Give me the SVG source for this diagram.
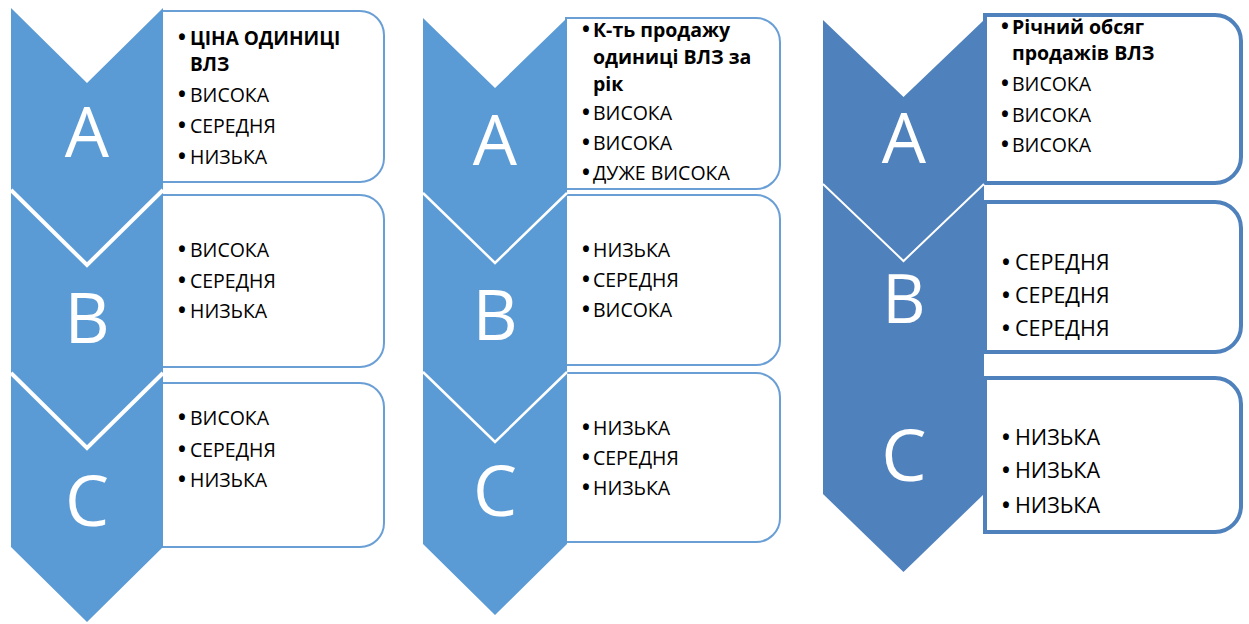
<svg xmlns="http://www.w3.org/2000/svg" width="1249" height="624" viewBox="0 0 1249 624">
  <style>
    .chev1 { fill: #5b9bd5; }
    .chev3 { fill: #4f81bd; }
    .sep1 { fill: none; stroke: #ffffff; stroke-width: 4; }
    .sep2 { fill: none; stroke: #ffffff; stroke-width: 2.5; }
    .sep3 { fill: none; stroke: #ffffff; stroke-width: 2; }
    .box1 { fill: #ffffff; stroke: #6a9fd6; stroke-width: 2; }
    .box3 { fill: #ffffff; stroke: #4f81bd; stroke-width: 4; }
    .letter { font-family: "Open Sans", "Noto Sans", "DejaVu Sans", sans-serif; fill: #ffffff; text-anchor: middle; font-size: 70px; }
    .t { font-family: "Open Sans", "Noto Sans", "DejaVu Sans", sans-serif; fill: #000000; font-size: 19.5px; }
    .tb { font-weight: bold; }
    .big { font-size: 21.5px; }
    .bul { font-size: 21px; font-weight: bold; }
  </style>
  <rect width="1249" height="624" fill="#ffffff"/>

  <!-- column 1: unit price -->
  <g id="c1-A">
    <path class="box1" d="M162,11 H360 A24,24 0 0 1 384,35 V158 A24,24 0 0 1 360,182 H162 Z"/>
    <polygon class="chev1" points="11,8 87,83 163,8 163,190 87,265 11,190"/>
    <text class="letter" x="87" y="157">A</text>
    <text class="t tb" style="font-size:19px"><tspan class="bul" x="178" y="45">•</tspan><tspan x="190" y="45">ЦІНА ОДИНИЦІ</tspan><tspan x="190" y="71">ВЛЗ</tspan></text>
    <text class="t" y="102"><tspan class="bul" x="178">•</tspan><tspan x="190">ВИСОКА</tspan></text>
    <text class="t" y="133"><tspan class="bul" x="178">•</tspan><tspan x="190">СЕРЕДНЯ</tspan></text>
    <text class="t" y="164"><tspan class="bul" x="178">•</tspan><tspan x="190">НИЗЬКА</tspan></text>
  </g>
  <g id="c1-B">
    <path class="box1" d="M162,195 H360 A24,24 0 0 1 384,219 V343 A24,24 0 0 1 360,367 H162 Z"/>
    <polygon class="chev1" points="11,190 87,265 163,190 163,373 87,448 11,373"/>
    <polyline class="sep1" points="11,190 87,265 163,190"/>
    <text class="letter" x="87" y="343">B</text>
    <text class="t" y="257"><tspan class="bul" x="178">•</tspan><tspan x="190">ВИСОКА</tspan></text>
    <text class="t" y="288"><tspan class="bul" x="178">•</tspan><tspan x="190">СЕРЕДНЯ</tspan></text>
    <text class="t" y="318"><tspan class="bul" x="178">•</tspan><tspan x="190">НИЗЬКА</tspan></text>
  </g>
  <g id="c1-C">
    <path class="box1" d="M162,383 H360 A24,24 0 0 1 384,407 V523 A24,24 0 0 1 360,547 H162 Z"/>
    <polygon class="chev1" points="11,373 87,448 163,373 163,547 87,622 11,547"/>
    <polyline class="sep1" points="11,373 87,448 163,373"/>
    <text class="letter" x="87" y="526">C</text>
    <text class="t" y="425"><tspan class="bul" x="178">•</tspan><tspan x="190">ВИСОКА</tspan></text>
    <text class="t" y="457"><tspan class="bul" x="178">•</tspan><tspan x="190">СЕРЕДНЯ</tspan></text>
    <text class="t" y="487"><tspan class="bul" x="178">•</tspan><tspan x="190">НИЗЬКА</tspan></text>
  </g>

  <!-- column 2: unit sales per year -->
  <g id="c2-A">
    <path class="box1" d="M566,18 H756 A24,24 0 0 1 780,42 V165 A24,24 0 0 1 756,189 H566 Z"/>
    <polygon class="chev1" points="423,18 495,88 567,18 567,193 495,263 423,193"/>
    <text class="letter" x="495" y="165">A</text>
    <text class="t tb"><tspan class="bul" x="582" y="37">•</tspan><tspan x="593" y="37">К-ть продажу</tspan><tspan x="593" y="64">одиниці ВЛЗ за</tspan><tspan x="593" y="91">рік</tspan></text>
    <text class="t" y="120"><tspan class="bul" x="582">•</tspan><tspan x="593">ВИСОКА</tspan></text>
    <text class="t" y="150"><tspan class="bul" x="582">•</tspan><tspan x="593">ВИСОКА</tspan></text>
    <text class="t" y="180"><tspan class="bul" x="582">•</tspan><tspan x="593">ДУЖЕ ВИСОКА</tspan></text>
  </g>
  <g id="c2-B">
    <path class="box1" d="M566,195 H756 A24,24 0 0 1 780,219 V341 A24,24 0 0 1 756,365 H566 Z"/>
    <polygon class="chev1" points="423,193 495,263 567,193 567,372 495,442 423,372"/>
    <polyline class="sep2" points="423,193 495,263 567,193"/>
    <text class="letter" x="495" y="340">B</text>
    <text class="t" y="257"><tspan class="bul" x="582">•</tspan><tspan x="593">НИЗЬКА</tspan></text>
    <text class="t" y="287"><tspan class="bul" x="582">•</tspan><tspan x="593">СЕРЕДНЯ</tspan></text>
    <text class="t" y="317"><tspan class="bul" x="582">•</tspan><tspan x="593">ВИСОКА</tspan></text>
  </g>
  <g id="c2-C">
    <path class="box1" d="M566,373 H756 A24,24 0 0 1 780,397 V518 A24,24 0 0 1 756,542 H566 Z"/>
    <polygon class="chev1" points="423,372 495,442 567,372 567,544 495,615 423,544"/>
    <polyline class="sep2" points="423,372 495,442 567,372"/>
    <text class="letter" x="495" y="516">C</text>
    <text class="t" y="435"><tspan class="bul" x="582">•</tspan><tspan x="593">НИЗЬКА</tspan></text>
    <text class="t" y="465"><tspan class="bul" x="582">•</tspan><tspan x="593">СЕРЕДНЯ</tspan></text>
    <text class="t" y="495"><tspan class="bul" x="582">•</tspan><tspan x="593">НИЗЬКА</tspan></text>
  </g>

  <!-- column 3: annual sales volume -->
  <g id="c3-A">
    <path class="box3" d="M985,15 H1215 A26,26 0 0 1 1241,41 V157 A26,26 0 0 1 1215,183 H985 Z"/>
    <polygon class="chev3" points="823,20 903.5,97 984,20 984,184 903.5,261 823,184"/>
    <text class="letter" x="904" y="163">A</text>
    <text class="t tb"><tspan class="bul" x="1001" y="34">•</tspan><tspan x="1012" y="34">Річний обсяг</tspan><tspan x="1012" y="60">продажів ВЛЗ</tspan></text>
    <text class="t" y="91"><tspan class="bul" x="1001">•</tspan><tspan x="1012">ВИСОКА</tspan></text>
    <text class="t" y="122"><tspan class="bul" x="1001">•</tspan><tspan x="1012">ВИСОКА</tspan></text>
    <text class="t" y="152"><tspan class="bul" x="1001">•</tspan><tspan x="1012">ВИСОКА</tspan></text>
  </g>
  <g id="c3-B">
    <path class="box3" d="M985,202 H1215 A26,26 0 0 1 1241,228 V326 A26,26 0 0 1 1215,352 H985 Z"/>
    <polygon class="chev3" points="823,184 903.5,261 984,184 984,360 903.5,437 823,360"/>
    <polyline class="sep3" points="823,184 903.5,261 984,184"/>
    <text class="letter" x="904" y="323" style="font-size:67px">B</text>
    <text class="t big" y="270"><tspan class="bul" x="1002">•</tspan><tspan x="1015">СЕРЕДНЯ</tspan></text>
    <text class="t big" y="303"><tspan class="bul" x="1002">•</tspan><tspan x="1015">СЕРЕДНЯ</tspan></text>
    <text class="t big" y="336"><tspan class="bul" x="1002">•</tspan><tspan x="1015">СЕРЕДНЯ</tspan></text>
  </g>
  <g id="c3-C">
    <path class="box3" d="M985,378 H1215 A26,26 0 0 1 1241,404 V506 A26,26 0 0 1 1215,532 H985 Z"/>
    <!-- flat top tucked inside the upper chevron so the two blend into one band -->
    <polygon class="chev3" points="823,345 984,345 984,494 903.5,572 823,494"/>
    <text class="letter" x="904" y="481" style="font-size:72px">C</text>
    <text class="t big" y="445"><tspan class="bul" x="1002">•</tspan><tspan x="1015">НИЗЬКА</tspan></text>
    <text class="t big" y="478"><tspan class="bul" x="1002">•</tspan><tspan x="1015">НИЗЬКА</tspan></text>
    <text class="t big" y="513"><tspan class="bul" x="1002">•</tspan><tspan x="1015">НИЗЬКА</tspan></text>
  </g>
</svg>
